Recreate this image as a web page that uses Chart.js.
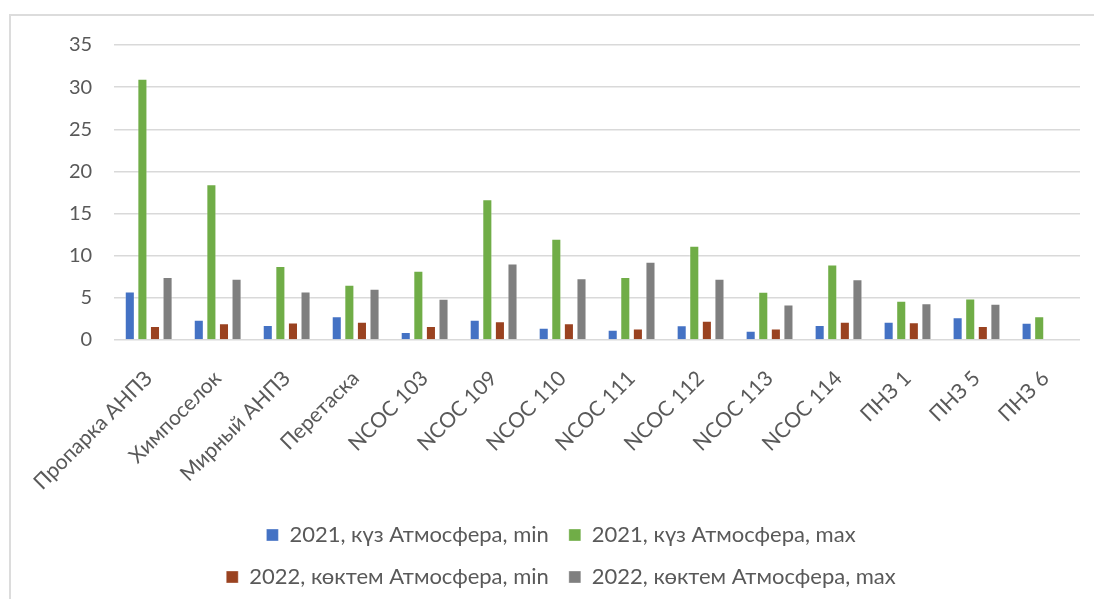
<!DOCTYPE html>
<html>
<head>
<meta charset="utf-8">
<script src="https://cdn.jsdelivr.net/npm/chart.js@4/dist/chart.umd.min.js"></script>
<style>
  html, body { margin: 0; padding: 0; background: #ffffff; }
  #frame { position: absolute; left: 9px; top: 14px; width: 1100px; height: 600px; border: 2px solid #dcdcdc; box-sizing: border-box; }
  #wrap { position: absolute; left: 0; top: 0; width: 1094px; height: 599px; }
</style>
</head>
<body>
<div id="frame"></div>
<div id="wrap"><canvas id="c"></canvas></div>
<script>
const categories = ['Пропарка АНПЗ', 'Химпоселок', 'Мирный АНПЗ', 'Перетаска', 'NCOC 103', 'NCOC 109', 'NCOC 110', 'NCOC 111', 'NCOC 112', 'NCOC 113', 'NCOC 114', 'ПНЗ 1', 'ПНЗ 5', 'ПНЗ 6'];
const seriesNames = ['2021, күз Атмосфера, min', '2021, күз Атмосфера, max', '2022, көктем Атмосфера, min', '2022, көктем Атмосфера, max'];
const autumn2021Min = [5.74, 2.38, 1.78, 2.81, 0.95, 2.38, 1.43, 1.19, 1.74, 1.07, 1.78, 2.14, 2.70, 2.02];
const autumn2021Max = [31.0, 18.47, 8.76, 6.54, 8.2, 16.7, 12.0, 7.45, 11.18, 5.7, 8.95, 4.64, 4.91, 2.81];
const spring2022Min = [1.66, 1.98, 2.06, 2.14, 1.66, 2.22, 1.98, 1.35, 2.26, 1.35, 2.14, 2.10, 1.66, null];
const spring2022Max = [7.45, 7.25, 5.74, 6.06, 4.88, 9.07, 7.33, 9.27, 7.25, 4.20, 7.20, 4.36, 4.28, null];
const yTicks = [0, 5, 10, 15, 20, 25, 30, 35];

const colors = ['#4472C4', '#70AD47', '#9A4220', '#7F7F7F'];
const values = [autumn2021Min, autumn2021Max, spring2022Min, spring2022Max];
const FONT = 'Lato, "Open Sans", sans-serif';

// two legend items per row, rows centred a little left of the page centre (as in the source)
const legendLayout = {
  id: 'legendLayout',
  afterInit(chart) {
    const l = chart.legend;
    if (l && !l._wrapped) {
      const orig = l.update.bind(l);
      l.update = (mw, mh, m) => orig(Math.min(mw, 740), mh, m);
      l._wrapped = true;
    }
  },
  afterLayout(chart) {
    const l = chart.legend;
    if (l) {
      l.left = 0; l.right = 1122; l.width = 1122;
      l.top -= 9; l.bottom -= 9;
    }
  }
};

new Chart(document.getElementById('c'), {
  type: 'bar',
  data: {
    labels: categories,
    datasets: values.map((v, i) => ({
      label: seriesNames[i],
      data: v,
      backgroundColor: colors[i],
      borderColor: 'rgba(255,255,255,0.35)',
      borderWidth: 1,
      categoryPercentage: 0.73,
      barPercentage: 0.8
    }))
  },
  options: {
    responsive: true,
    maintainAspectRatio: false,
    animation: false,
    layout: { padding: { left: 66, right: 14, top: 45, bottom: -8 } },
    plugins: {
      legend: {
        position: 'bottom',
        labels: {
          boxWidth: 12,
          boxHeight: 12,
          padding: 20,
          color: '#595959',
          font: { family: FONT, size: 22, lineHeight: 1.2 }
        }
      },
      tooltip: { enabled: false }
    },
    scales: {
      x: {
        grid: { display: false },
        border: { display: false },
        ticks: {
          color: '#595959',
          font: { family: FONT, size: 21 },
          minRotation: 45,
          maxRotation: 45,
          autoSkip: false,
          padding: 18
        }
      },
      y: {
        min: 0,
        max: 35,
        afterBuildTicks(scale) { scale.ticks = yTicks.map(v => ({ value: v })); },
        grid: { color: '#d9d9d9', lineWidth: 1.5, drawTicks: true, tickLength: 19, tickColor: 'rgba(0,0,0,0)' },
        border: { display: false },
        ticks: {
          color: '#595959',
          font: { family: FONT, size: 20 },
          padding: 3
        }
      }
    }
  },
  plugins: [legendLayout]
});
</script>
</body>
</html>
